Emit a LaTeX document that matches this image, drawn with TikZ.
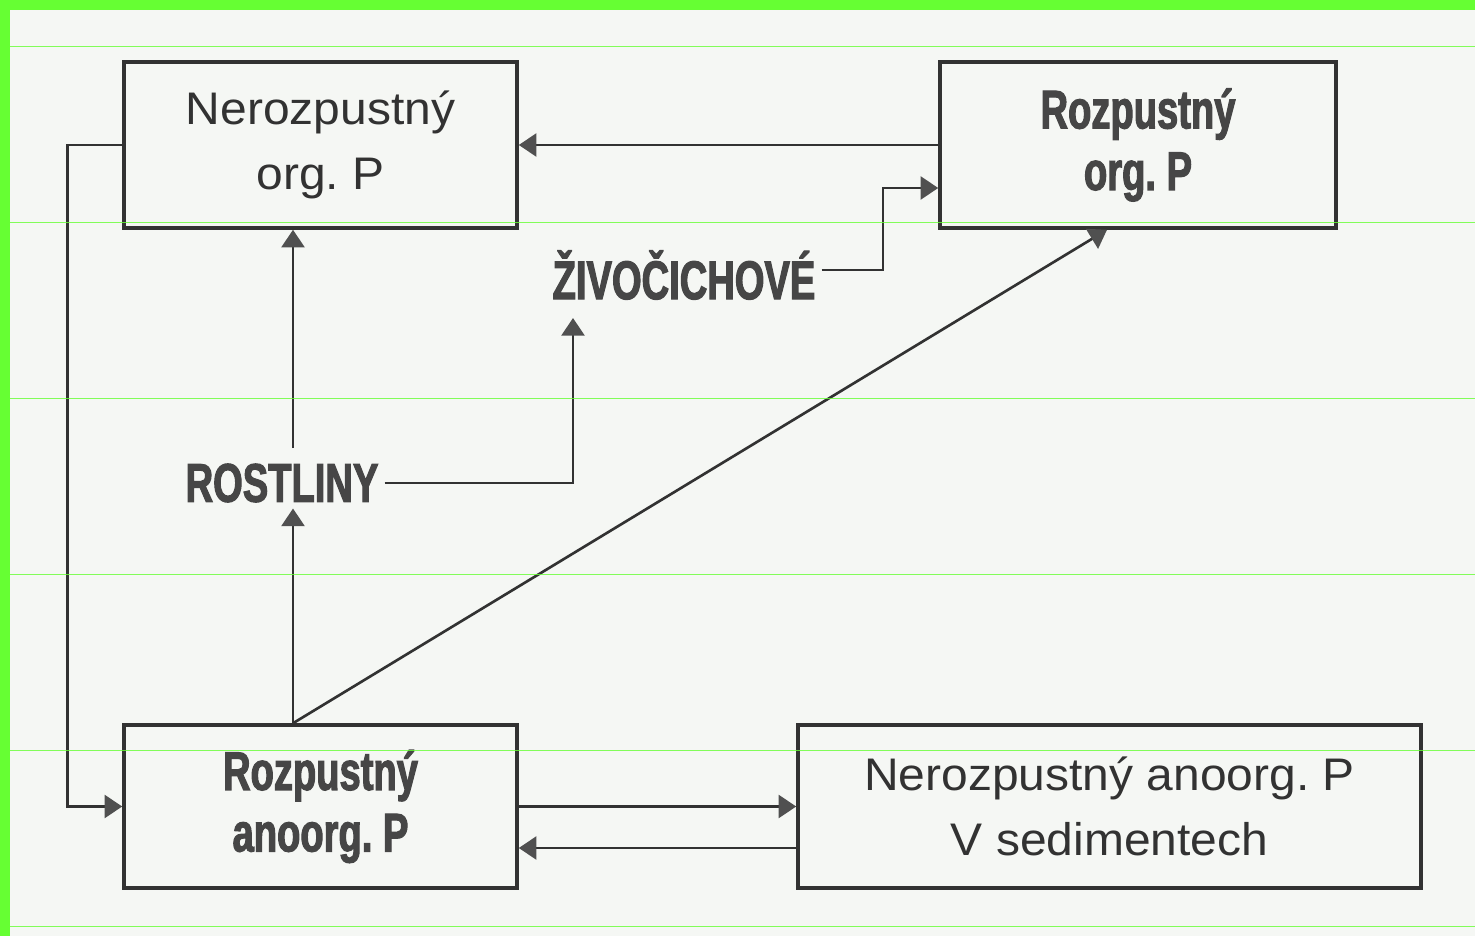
\documentclass[tikz,border=0pt]{standalone}
\usepackage{fontspec}
\setmainfont{Liberation Sans}
\newfontfamily\plainfont[FakeStretch=1.05]{Liberation Sans}
\newfontfamily\heavyfont[FakeStretch=0.7,FakeBold=2]{Liberation Sans}
\usepackage{tikz}
\usetikzlibrary{arrows.meta, calc, positioning}
\definecolor{scanbg}{RGB}{245,247,244}
\definecolor{inkgray}{RGB}{50,50,50}
\definecolor{tipgray}{RGB}{80,80,80}
\definecolor{heavygray}{RGB}{70,70,70}
\definecolor{bordergreen}{RGB}{102,255,51}
\tikzset{
    flow line/.style={line width=1.5pt, draw=inkgray, ->,
      >={Triangle[length=10pt,width=13pt,color=tipgray]}},
    box node/.style={draw=inkgray, line width=2pt, align=center,
      inner sep=0pt},
    plain text/.style={font=\plainfont\frenchspacing\fontsize{26}{37}\selectfont,
      text=inkgray, align=center},
    heavy text/.style={font=\heavyfont\bfseries\frenchspacing\fontsize{31}{35}\selectfont,
      text=heavygray, align=center}
}
\begin{document}
\begin{tikzpicture}
  \useasboundingbox (0,0) rectangle (29.5,18.72);
  \fill[scanbg] (0,0) rectangle (29.5,18.72);
  \fill[bordergreen] (0,0) rectangle (0.2,18.72);
  \fill[bordergreen] (0,18.52) rectangle (29.5,18.72);

  % boxes
  \node[box node, plain text, minimum width=7.86cm, minimum height=3.32cm]
  (nerorg) at (6.41,15.82) {Nerozpustný\\org. P};
  \node[box node, heavy text, minimum width=7.92cm, minimum height=3.32cm]
  (rozorg) at (22.76,15.82) {Rozpustný\\org. P};
  \node[box node, heavy text, minimum width=7.86cm, minimum height=3.26cm]
  (rozanorg) at (6.41,2.59) {Rozpustný\\anoorg. P};
  \node[box node, plain text, minimum width=12.46cm, minimum height=3.26cm]
  (nersed) at (22.19,2.59) {Nerozpustný anoorg. P\\V sedimentech};

  % organisms
  \node[heavy text] (zivo) at (13.68,13.22) {ŽIVOČICHOVÉ};
  \node[heavy text] (rost) at (5.64,9.06) {ROSTLINY};

  \coordinate (rbase) at ($(rozanorg.north)+(-0.55,0)$);
  \coordinate (rtop) at ($(rost.north)+(0,0.19)$);
  \coordinate (zout) at ($(zivo.east)+(0,0.1)$);
  \coordinate (zbend) at (17.66,14.96);
  \coordinate (zin) at (rozorg.west |- zbend);
  \coordinate (zbot) at (11.46,12.36);
  \coordinate (diagend) at ($(rozorg.south)+(-0.62,0)$);
  \coordinate (lbend) at ($(nerorg.west)+(-1.1,0)$);
  \coordinate (sedlow) at ($(nersed.west)+(0,-0.83)$);

  % links
  \draw[flow line] (rozorg.west) -- (nerorg.east);
  \draw[flow line] (zout) -| (zbend) -- (zin);
  \draw[flow line] (rbase) -- (diagend);
  \draw[flow line] (rbase) -- (rbase |- rost.south);
  \draw[flow line] (rbase |- rtop) -- (rbase |- nerorg.south);
  \draw[flow line] (rost.east) -| (zbot);
  \draw[flow line] (nerorg.west) -- (lbend) |- (rozanorg.west);
  \draw[flow line] (rozanorg.east) -- (nersed.west);
  \draw[flow line] (sedlow) -- (sedlow -| rozanorg.east);

  % scan lines
  \foreach \k in {0,...,5}
    \draw[bordergreen, line width=0.5pt, opacity=0.8]
    (0.2,{17.8-3.52*\k}) -- (29.5,{17.8-3.52*\k});
\end{tikzpicture}
\end{document}
